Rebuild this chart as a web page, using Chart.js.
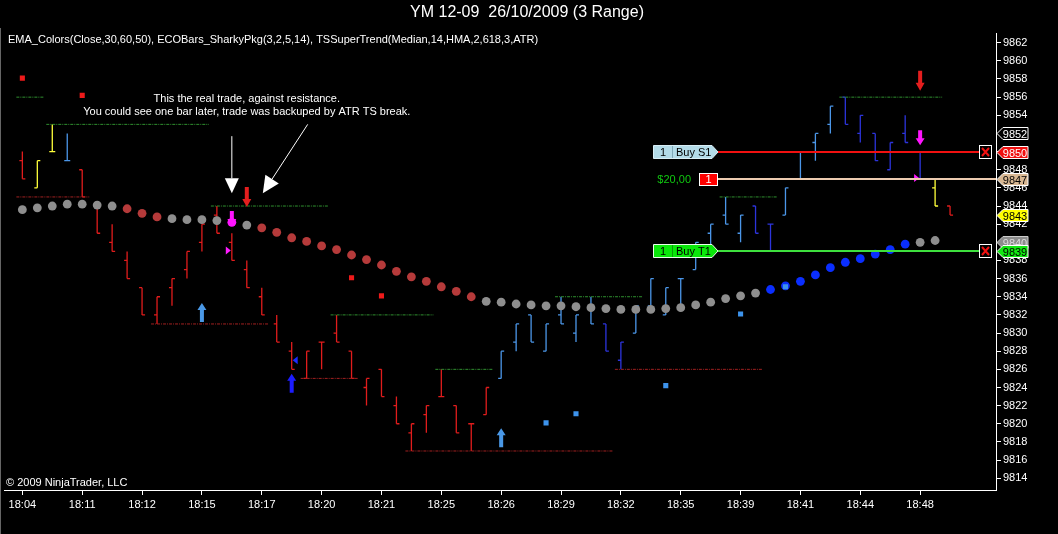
<!DOCTYPE html>
<html>
<head>
<meta charset="utf-8">
<script src="https://cdn.jsdelivr.net/npm/chart.js@4.4.1/dist/chart.umd.min.js"></script>
<style>
  html, body { margin: 0; padding: 0; background: #000; overflow: hidden; }
  #wrap { width: 1058px; height: 534px; position: relative; }
</style>
</head>
<body>
<div id="wrap"><canvas id="chart" width="1058" height="534"></canvas></div>
<script>
// axis labels
const timeLabels = ['18:04', '18:11', '18:12', '18:15', '18:17', '18:20', '18:21', '18:25',
  '18:26', '18:29', '18:32', '18:35', '18:39', '18:41', '18:44', '18:48'];
const priceTicks = [9814, 9816, 9818, 9820, 9822, 9824, 9826, 9828, 9830, 9832, 9834, 9836,
  9838, 9840, 9842, 9844, 9846, 9848, 9850, 9852, 9854, 9856, 9858, 9860, 9862];

// 3 range bars (one per index)
const opens = [9849, 9846, 9850, 9849, 9848, 9844, 9840, 9838, 9835, 9832,
  9835, 9837, 9840, 9843, 9840, 9837, 9834, 9831, 9828, 9825,
  9829, 9830, 9828, 9824, 9826, 9822, 9819, 9821, 9823, 9822,
  9820, 9821, 9825, 9829, 9832, 9828, 9832, 9830, 9833, 9831,
  9827, 9830, 9833, 9832, 9836, 9837, 9841, 9843, 9841, 9844,
  9842, 9843, 9847, 9851, 9853, 9856, 9852, 9852, 9848, 9852,
  9850, 9846, 9844];
const highs = [9850, 9849, 9853, 9852, 9848, 9844, 9842, 9839, 9835, 9834,
  9836, 9839, 9842, 9844, 9841, 9838, 9835, 9832, 9829, 9828,
  9829, 9832, 9828, 9825, 9826, 9823, 9820, 9822, 9826, 9822,
  9820, 9824, 9828, 9831, 9832, 9831, 9834, 9832, 9834, 9831,
  9829, 9833, 9836, 9835, 9836, 9840, 9842, 9845, 9843, 9844,
  9842, 9846, 9850, 9852, 9855, 9856, 9854, 9852, 9851, 9854,
  9850, 9847, 9844];
const lows = [9847, 9846, 9850, 9849, 9845, 9841, 9839, 9836, 9832, 9831,
  9833, 9836, 9839, 9841, 9838, 9835, 9832, 9829, 9826, 9825,
  9826, 9829, 9825, 9822, 9823, 9820, 9817, 9819, 9823, 9819,
  9817, 9821, 9825, 9828, 9829, 9828, 9831, 9829, 9831, 9828,
  9826, 9830, 9833, 9832, 9833, 9837, 9839, 9842, 9840, 9841,
  9839, 9843, 9847, 9849, 9852, 9853, 9851, 9849, 9848, 9851,
  9847, 9844, 9843];
const closes = [9847, 9849, 9850, 9849, 9845, 9841, 9839, 9836, 9832, 9834,
  9836, 9839, 9842, 9841, 9838, 9835, 9832, 9829, 9826, 9828,
  9829, 9829, 9825, 9825, 9823, 9820, 9820, 9822, 9823, 9819,
  9820, 9824, 9828, 9831, 9829, 9831, 9831, 9832, 9831, 9828,
  9829, 9833, 9836, 9835, 9836, 9840, 9842, 9842, 9843, 9841,
  9842, 9846, 9850, 9852, 9855, 9853, 9854, 9849, 9851, 9851,
  9847, 9844, 9843];
// ECOBars colour class per bar: r red, y yellow, lb light blue, db dark blue
const barTone = ['r', 'y', 'y', 'lb', 'r', 'r', 'r', 'r', 'r', 'r',
  'r', 'r', 'r', 'r', 'r', 'r', 'r', 'r', 'r', 'r',
  'r', 'r', 'r', 'r', 'r', 'r', 'r', 'r', 'r', 'r',
  'r', 'r', 'lb', 'lb', 'lb', 'lb', 'lb', 'lb', 'lb', 'db',
  'db', 'lb', 'lb', 'lb', 'lb', 'lb', 'lb', 'lb', 'lb', 'db',
  'db', 'lb', 'lb', 'lb', 'lb', 'db', 'db', 'db', 'db', 'db',
  'db', 'y', 'r'];

// EMA_Colors dots
const emaValues = [9843.6, 9843.8, 9844.0, 9844.2, 9844.2, 9844.1, 9844.0, 9843.7, 9843.2, 9842.8,
  9842.6, 9842.5, 9842.5, 9842.4, 9842.2, 9841.9, 9841.6, 9841.1, 9840.5, 9840.1,
  9839.6, 9839.2, 9838.6, 9838.1, 9837.5, 9836.8, 9836.2, 9835.7, 9835.1, 9834.6,
  9834.0, 9833.5, 9833.4, 9833.2, 9833.1, 9833.0, 9833.0, 9832.9, 9832.8, 9832.7,
  9832.6, 9832.6, 9832.6, 9832.7, 9832.8, 9833.1, 9833.4, 9833.8, 9834.1, 9834.4,
  9834.8, 9835.2, 9835.7, 9836.4, 9837.2, 9837.8, 9838.2, 9838.7, 9839.2, 9839.8,
  9840.0, 9840.2];
const emaTone = ['g', 'g', 'g', 'g', 'g', 'g', 'g', 'r', 'r', 'r',
  'g', 'g', 'g', 'g', 'm', 'g', 'r', 'r', 'r', 'r',
  'r', 'r', 'r', 'r', 'r', 'r', 'r', 'r', 'r', 'r',
  'r', 'g', 'g', 'g', 'g', 'g', 'g', 'g', 'g', 'g',
  'g', 'g', 'g', 'g', 'g', 'g', 'g', 'g', 'g', 'g',
  'b', 'b', 'b', 'b', 'b', 'b', 'b', 'b', 'b', 'b',
  'g', 'g'];

// TSSuperTrend stop squares
const stopBars = [0, 4, 22, 24, 35, 37, 43, 48, 51];
const stopPrices = [9858.1, 9856.2, 9836.1, 9834.1, 9820.1, 9821.1, 9824.2, 9832.1, 9835.1];
const stopTone = ['r', 'r', 'r', 'r', 'b', 'b', 'b', 'b', 'b'];

// resistance (green) and support (red) levels
const greenLevelStart = [0, 2, 13, 21, 28, 36, 47, 55];
const greenLevelEnd = [1, 12, 20, 27, 31, 41, 50, 61];
const greenLevelPrice = [9856, 9853, 9844, 9832, 9826, 9834, 9845, 9856];
const redLevelStart = [0, 9, 19, 26, 40];
const redLevelEnd = [4, 16, 22, 39, 49];
const redLevelPrice = [9845, 9831, 9825, 9817, 9826];

// signal arrows
const upArrowBars = [12, 18, 32];
const upArrowTips = [9833.3, 9825.5, 9819.5];
const upArrowTone = ['lb', 'db', 'lb'];
const downArrowBars = [15, 60];
const downArrowTips = [9843.9, 9856.7];
const entryArrowBars = [14, 60];
const entryArrowTips = [9841.8, 9850.7];
const fillBars = [14, 18, 60];
const fillPrices = [9839.1, 9827.0, 9847.1];
const fillSide = ['buy', 'sell', 'buy'];

// orders and axis price markers
const orderPrices = [9850, 9847, 9839];
const axisMarkPrices = [9852, 9850, 9847, 9843, 9840, 9839];

const barColors = { r: '#e01c1c', y: '#ffff3a', lb: '#4b96e8', db: '#2c34dc' };
const emaColors = { g: '#8e8e8e', r: '#b53a3a', b: '#0a2eff', m: '#ff14ff' };
const stopColors = { r: '#ee1a1a', b: '#3d93ec' };
const FONT = '"Liberation Sans", Arial, sans-serif';

function levelSet(starts, ends, prices, color) {
  return starts.map((s, i) => ({
    type: 'line',
    data: [{ x: s - 0.4, y: prices[i] }, { x: ends[i] + 0.47, y: prices[i] }],
    borderColor: color,
    borderWidth: 1,
    borderDash: [3, 1, 1, 1],
    pointRadius: 0,
    order: 5
  }));
}

function drawArrow(ctx, x, yTip, dir, len, shaftW, headW, headL, color) {
  // dir 1 = pointing down, -1 = pointing up
  const yBase = yTip - dir * len;
  const yNeck = yTip - dir * headL;
  ctx.fillStyle = color;
  ctx.beginPath();
  ctx.moveTo(x - shaftW / 2, yBase);
  ctx.lineTo(x + shaftW / 2, yBase);
  ctx.lineTo(x + shaftW / 2, yNeck);
  ctx.lineTo(x + headW / 2, yNeck);
  ctx.lineTo(x, yTip);
  ctx.lineTo(x - headW / 2, yNeck);
  ctx.lineTo(x - shaftW / 2, yNeck);
  ctx.closePath();
  ctx.fill();
}

function lineArrow(ctx, x0, y0, x1, y1, headL, headW) {
  const ang = Math.atan2(y1 - y0, x1 - x0);
  const bx = x1 - Math.cos(ang) * headL, by = y1 - Math.sin(ang) * headL;
  ctx.strokeStyle = '#fff';
  ctx.fillStyle = '#fff';
  ctx.lineWidth = 1;
  ctx.beginPath();
  ctx.moveTo(x0, y0);
  ctx.lineTo(bx, by);
  ctx.stroke();
  ctx.beginPath();
  ctx.moveTo(x1, y1);
  ctx.lineTo(bx + Math.sin(ang) * headW, by - Math.cos(ang) * headW);
  ctx.lineTo(bx - Math.sin(ang) * headW, by + Math.cos(ang) * headW);
  ctx.closePath();
  ctx.fill();
}

const ohlcPlugin = {
  id: 'ohlc',
  beforeDatasetsDraw(chart) {
    const { ctx, scales: { x, y } } = chart;
    ctx.save();
    ctx.lineWidth = 1.3;
    opens.forEach((o, i) => {
      const cx = x.getPixelForValue(i);
      const yo = y.getPixelForValue(o);
      const yc = y.getPixelForValue(closes[i]);
      ctx.strokeStyle = barColors[barTone[i]];
      ctx.beginPath();
      ctx.moveTo(cx, y.getPixelForValue(highs[i]));
      ctx.lineTo(cx, y.getPixelForValue(lows[i]));
      ctx.moveTo(cx - 3, yo);
      ctx.lineTo(cx, yo);
      ctx.moveTo(cx, yc);
      ctx.lineTo(cx + 3, yc);
      ctx.stroke();
    });
    ctx.restore();
  }
};

const overlayPlugin = {
  id: 'overlay',
  afterDatasetsDraw(chart) {
    const { ctx, chartArea, scales: { x, y } } = chart;
    ctx.save();

    // signal arrows
    upArrowBars.forEach((b, i) => {
      drawArrow(ctx, x.getPixelForValue(b), y.getPixelForValue(upArrowTips[i]), -1, 19, 4, 9, 7,
        upArrowTone[i] === 'lb' ? '#4a98e6' : '#1c1cff');
    });
    downArrowBars.forEach((b, i) => {
      drawArrow(ctx, x.getPixelForValue(b), y.getPixelForValue(downArrowTips[i]), 1, 20, 4, 9, 8, '#e41e1e');
    });
    entryArrowBars.forEach((b, i) => {
      drawArrow(ctx, x.getPixelForValue(b), y.getPixelForValue(entryArrowTips[i]), 1, 15, 4, 9, 7, '#ff14ff');
    });

    // execution triangles
    fillBars.forEach((b, i) => {
      const cx = x.getPixelForValue(b);
      const cy = y.getPixelForValue(fillPrices[i]);
      ctx.beginPath();
      if (fillSide[i] === 'buy') {
        ctx.fillStyle = '#ff1cff';
        ctx.moveTo(cx - 6, cy - 4); ctx.lineTo(cx - 1, cy); ctx.lineTo(cx - 6, cy + 4);
      } else {
        ctx.fillStyle = '#1c2cff';
        ctx.moveTo(cx + 6, cy - 4); ctx.lineTo(cx + 1, cy); ctx.lineTo(cx + 6, cy + 4);
      }
      ctx.closePath();
      ctx.fill();
    });

    // annotation
    lineArrow(ctx, x.getPixelForValue(14), y.getPixelForValue(9851.7),
      x.getPixelForValue(14), y.getPixelForValue(9845.4), 15, 7);
    lineArrow(ctx, x.getPixelForValue(19.07), y.getPixelForValue(9853.0),
      x.getPixelForValue(16.07), y.getPixelForValue(9845.4), 17, 8);
    ctx.fillStyle = '#fff';
    ctx.font = '11px ' + FONT;
    ctx.textAlign = 'center';
    ctx.textBaseline = 'middle';
    ctx.fillText('This the real trade, against resistance.', x.getPixelForValue(15), y.getPixelForValue(9855.8));
    ctx.fillText('You could see one bar later, trade was backuped by ATR TS break.', x.getPixelForValue(15), y.getPixelForValue(9854.35));

    // order lines
    const right = chartArea.right;
    const tip = right - 278, boxL = right - 343, xBox = right - 17;
    const lineColors = ['#f01010', '#eccbb0', '#3ee03e'];
    orderPrices.forEach((p, i) => {
      const cy = Math.round(y.getPixelForValue(p));
      ctx.strokeStyle = lineColors[i];
      ctx.lineWidth = 2;
      ctx.beginPath();
      ctx.moveTo(tip, cy);
      ctx.lineTo(i === 1 ? right : xBox, cy);
      ctx.stroke();
      ctx.font = '11px ' + FONT;
      ctx.textBaseline = 'middle';
      if (i === 1) {
        ctx.fillStyle = '#10c810';
        ctx.textAlign = 'right';
        ctx.fillText('$20,00', tip - 27, cy + 1);
        ctx.fillStyle = '#f00';
        ctx.strokeStyle = '#fff';
        ctx.lineWidth = 1;
        ctx.fillRect(tip - 19, cy - 6, 19, 13);
        ctx.strokeRect(tip - 18.5, cy - 5.5, 18, 12);
        ctx.fillStyle = '#fff';
        ctx.textAlign = 'center';
        ctx.fillText('1', tip - 9.5, cy + 1);
      } else {
        const fill = i === 0 ? '#b3dbe8' : '#0ae80a';
        ctx.fillStyle = fill;
        ctx.strokeStyle = i === 0 ? '#d8eef6' : '#e8ffe8';
        ctx.lineWidth = 1;
        ctx.beginPath();
        ctx.moveTo(boxL + 0.5, cy - 6.5);
        ctx.lineTo(tip - 6, cy - 6.5);
        ctx.lineTo(tip, cy);
        ctx.lineTo(tip - 6, cy + 6.5);
        ctx.lineTo(boxL + 0.5, cy + 6.5);
        ctx.closePath();
        ctx.fill();
        ctx.stroke();
        ctx.strokeStyle = i === 0 ? '#7fa8b8' : '#0a9a0a';
        ctx.beginPath();
        ctx.moveTo(boxL + 19.5, cy - 6);
        ctx.lineTo(boxL + 19.5, cy + 6);
        ctx.stroke();
        ctx.fillStyle = '#000';
        ctx.textAlign = 'center';
        ctx.fillText('1', boxL + 10, cy + 1);
        ctx.textAlign = 'left';
        ctx.fillText(i === 0 ? 'Buy S1' : 'Buy T1', boxL + 23, cy + 1);
        // close box
        ctx.fillStyle = '#000';
        ctx.fillRect(xBox, cy - 7, 13, 14);
        ctx.strokeStyle = '#fff';
        ctx.strokeRect(xBox + 0.5, cy - 6.5, 12, 13);
        ctx.strokeStyle = '#f01010';
        ctx.lineWidth = 2;
        ctx.beginPath();
        ctx.moveTo(xBox + 3, cy - 4); ctx.lineTo(xBox + 10, cy + 4);
        ctx.moveTo(xBox + 10, cy - 4); ctx.lineTo(xBox + 3, cy + 4);
        ctx.stroke();
      }
    });
    ctx.restore();
  },
  afterDraw(chart) {
    const { ctx, chartArea, scales: { y } } = chart;
    ctx.save();
    ctx.fillStyle = '#fff';
    ctx.textBaseline = 'middle';
    ctx.font = '16px ' + FONT;
    ctx.textAlign = 'center';
    ctx.fillText('YM 12-09  26/10/2009 (3 Range)', 527, 13);
    ctx.font = '11px ' + FONT;
    ctx.textAlign = 'left';
    ctx.fillText('EMA_Colors(Close,30,60,50), ECOBars_SharkyPkg(3,2,5,14), TSSuperTrend(Median,14,HMA,2,618,3,ATR)', 8, 40);
    ctx.fillText('\u00A9 2009 NinjaTrader, LLC', 6, 483);

    // price markers on the axis
    const fills = ['#000', '#f01010', '#d9b893', '#ffff00', '#8c8c8c', '#12e812'];
    const texts = ['#fff', '#fff', '#000', '#000', '#ddd', '#000'];
    const borders = ['#fff', '#fff', '#fff', '#fff', '#ccc', '#fff'];
    const x0 = chartArea.right;
    axisMarkPrices.forEach((p, i) => {
      const cy = Math.round(y.getPixelForValue(p)) + 0.5;
      ctx.beginPath();
      ctx.moveTo(x0 + 1, cy);
      ctx.lineTo(x0 + 7, cy - 6);
      ctx.lineTo(x0 + 32, cy - 6);
      ctx.lineTo(x0 + 32, cy + 6);
      ctx.lineTo(x0 + 7, cy + 6);
      ctx.closePath();
      ctx.fillStyle = fills[i];
      ctx.fill();
      ctx.strokeStyle = borders[i];
      ctx.lineWidth = 1;
      ctx.stroke();
      ctx.fillStyle = texts[i];
      ctx.textAlign = 'center';
      ctx.fillText(String(p), x0 + 19, cy + 1);
    });

    // window edge
    ctx.strokeStyle = '#666';
    ctx.beginPath();
    ctx.moveTo(0.5, 28);
    ctx.lineTo(0.5, 534);
    ctx.stroke();
    ctx.restore();
  }
};

const ctx = document.getElementById('chart').getContext('2d');
Chart.defaults.font.family = FONT;
Chart.defaults.font.size = 11;
Chart.defaults.color = '#fff';

new Chart(ctx, {
  type: 'scatter',
  data: {
    datasets: [
      {
        label: 'Stops',
        data: stopBars.map((b, i) => ({ x: b, y: stopPrices[i] })),
        pointStyle: 'rect',
        pointRadius: 3.6,
        pointBorderWidth: 0,
        pointBackgroundColor: stopTone.map(t => stopColors[t]),
        order: 1
      },
      {
        label: 'EMA',
        data: emaValues.map((v, i) => ({ x: i, y: v })),
        pointStyle: 'circle',
        pointRadius: 4.4,
        pointBorderWidth: 0,
        pointBackgroundColor: emaTone.map(t => emaColors[t]),
        order: 2
      },
      ...levelSet(greenLevelStart, greenLevelEnd, greenLevelPrice, '#2f8f2f'),
      ...levelSet(redLevelStart, redLevelEnd, redLevelPrice, '#a02020')
    ]
  },
  options: {
    responsive: false,
    animation: false,
    events: [],
    layout: { padding: { left: 2, top: 33, right: 0, bottom: 0 } },
    plugins: { legend: { display: false }, tooltip: { enabled: false } },
    scales: {
      x: {
        type: 'linear',
        bounds: 'data',
        min: -1.2,
        max: 65.07,
        afterFit: s => { s.height = 44; },
        afterBuildTicks: s => { s.ticks = timeLabels.map((t, i) => ({ value: i * 4 })); },
        border: { display: true, color: '#fff', width: 1 },
        grid: { display: true, drawOnChartArea: false, drawTicks: true, tickLength: 5, color: '#fff' },
        ticks: {
          autoSkip: false, maxRotation: 0, padding: 3, color: '#fff',
          callback: v => timeLabels[Math.round(v / 4)] || ''
        }
      },
      y: {
        type: 'linear',
        position: 'right',
        bounds: 'data',
        min: 9812.7,
        max: 9863.07,
        afterFit: s => { s.width = 62; },
        afterBuildTicks: s => { s.ticks = priceTicks.map(v => ({ value: v })); },
        border: { display: true, color: '#fff', width: 1 },
        grid: { display: true, drawOnChartArea: false, drawTicks: true, tickLength: 5, color: '#fff' },
        ticks: { padding: 2, color: '#fff', callback: v => String(v) }
      }
    }
  },
  plugins: [ohlcPlugin, overlayPlugin]
});
</script>
</body>
</html>
